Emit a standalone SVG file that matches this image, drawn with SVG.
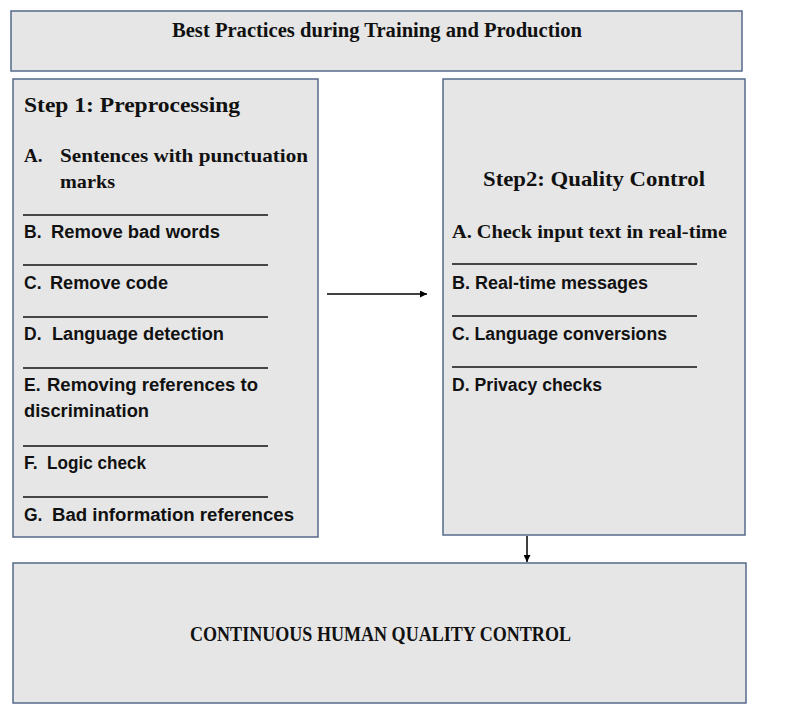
<svg xmlns="http://www.w3.org/2000/svg" width="788" height="712" viewBox="0 0 788 712">
<style>
.box{fill:#e6e6e6;stroke:#56698a;stroke-width:1.5}
.ser{font-family:"Liberation Serif","DejaVu Serif",serif;font-weight:bold;fill:#111}
.sans{font-family:"Liberation Sans","DejaVu Sans",sans-serif;font-weight:bold;fill:#111;font-size:17.5px}
.rule{stroke:#111;stroke-width:1.5}
.conn{stroke:#000;stroke-width:1.5;fill:none}
</style>
<defs>
<marker id="ah" viewBox="0 0 10 10" refX="10" refY="5" markerWidth="8" markerHeight="7" markerUnits="userSpaceOnUse" orient="auto">
<path d="M0,0 L10,5 L0,10 Z" fill="#000"/>
</marker>
</defs>
<g id="title">
<rect class="box" x="11" y="11" width="731" height="60"/>
<text class="ser" x="172" y="37" font-size="20" textLength="410" lengthAdjust="spacingAndGlyphs">Best Practices during Training and Production</text>
</g>
<g id="step1">
<rect class="box" x="13" y="79" width="305" height="458"/>
<text class="ser" x="24" y="112" font-size="22" textLength="216" lengthAdjust="spacingAndGlyphs">Step 1: Preprocessing</text>
<text class="ser" x="24" y="162" font-size="19">A.</text>
<text class="ser" x="60" y="162" font-size="19" textLength="248" lengthAdjust="spacingAndGlyphs">Sentences with punctuation</text>
<text class="ser" x="60" y="188" font-size="19" textLength="55" lengthAdjust="spacingAndGlyphs">marks</text>
<line class="rule" x1="23" y1="215" x2="268" y2="215"/>
<text class="sans" x="24" y="238">B.</text>
<text class="sans" x="51" y="238" textLength="169" lengthAdjust="spacingAndGlyphs">Remove bad words</text>
<line class="rule" x1="23" y1="265" x2="268" y2="265"/>
<text class="sans" x="24" y="289">C.</text>
<text class="sans" x="50" y="289" textLength="118" lengthAdjust="spacingAndGlyphs">Remove code</text>
<line class="rule" x1="23" y1="317" x2="268" y2="317"/>
<text class="sans" x="24" y="340">D.</text>
<text class="sans" x="52" y="340" textLength="172" lengthAdjust="spacingAndGlyphs">Language detection</text>
<line class="rule" x1="23" y1="368" x2="268" y2="368"/>
<text class="sans" x="24" y="391">E.</text>
<text class="sans" x="47" y="391" textLength="211" lengthAdjust="spacingAndGlyphs">Removing references to</text>
<text class="sans" x="24" y="417" textLength="125" lengthAdjust="spacingAndGlyphs">discrimination</text>
<line class="rule" x1="23" y1="446" x2="268" y2="446"/>
<text class="sans" x="24" y="469">F.</text>
<text class="sans" x="47" y="469" textLength="99" lengthAdjust="spacingAndGlyphs">Logic check</text>
<line class="rule" x1="23" y1="497" x2="268" y2="497"/>
<text class="sans" x="24" y="521">G.</text>
<text class="sans" x="52" y="521" textLength="242" lengthAdjust="spacingAndGlyphs">Bad information references</text>
</g>
<g id="step2">
<rect class="box" x="443" y="79" width="302" height="456"/>
<text class="ser" x="483" y="186" font-size="21" textLength="222" lengthAdjust="spacingAndGlyphs">Step2: Quality Control</text>
<text class="ser" x="452" y="238" font-size="19" textLength="275" lengthAdjust="spacingAndGlyphs">A. Check input text in real-time</text>
<line class="rule" x1="452" y1="264" x2="697" y2="264"/>
<text class="sans" x="452" y="289" textLength="196" lengthAdjust="spacingAndGlyphs">B. Real-time messages</text>
<line class="rule" x1="452" y1="316" x2="697" y2="316"/>
<text class="sans" x="452" y="340" textLength="215" lengthAdjust="spacingAndGlyphs">C. Language conversions</text>
<line class="rule" x1="452" y1="367" x2="697" y2="367"/>
<text class="sans" x="452" y="391" textLength="150" lengthAdjust="spacingAndGlyphs">D. Privacy checks</text>
</g>
<g id="human">
<rect class="box" x="13" y="563" width="733" height="140"/>
<text class="ser" x="190" y="641" font-size="21" textLength="381" lengthAdjust="spacingAndGlyphs">CONTINUOUS HUMAN QUALITY CONTROL</text>
</g>
<g id="connectors">
<line class="conn" x1="327" y1="294" x2="427" y2="294" marker-end="url(#ah)"/>
<line class="conn" x1="527" y1="536" x2="527" y2="562" marker-end="url(#ah)"/>
</g>
</svg>
